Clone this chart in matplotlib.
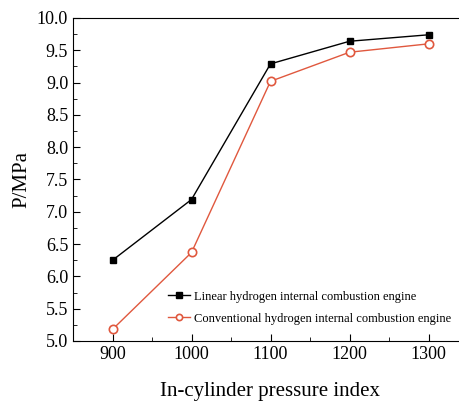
import matplotlib.pyplot as plt
from matplotlib.ticker import MultipleLocator

plt.rcParams['font.family'] = ['Liberation Serif', 'DejaVu Serif']

pressure_index = [900, 1000, 1100, 1200, 1300]
linear_p = [6.25, 7.19, 9.29, 9.64, 9.74]
conventional_p = [5.18, 6.37, 9.02, 9.47, 9.60]

fig = plt.figure(figsize=(4.6, 4.03), dpi=100)
# right edge of axes runs past the picture, as in the original
ax = fig.add_axes([73 / 460, 62 / 403, (468 - 73) / 460, 323 / 403])

ax.plot(pressure_index, linear_p, '-s', color='black', lw=1, ms=5,
        label='Linear hydrogen internal combustion engine')
ax.plot(pressure_index, conventional_p, '-o', color='#e0583e', lw=1, ms=6,
        mfc='white', mec='#e0583e', mew=1.2,
        label='Conventional hydrogen internal combustion engine')

ax.set_xlim(850, 1350)
ax.set_ylim(5.0, 10.0)
ax.xaxis.set_major_locator(MultipleLocator(100))
ax.xaxis.set_minor_locator(MultipleLocator(50))
ax.yaxis.set_major_locator(MultipleLocator(0.5))
ax.yaxis.set_minor_locator(MultipleLocator(0.25))
ax.yaxis.set_major_formatter('{x:.1f}')
ax.tick_params(which='both', direction='in', top=False, right=False, labelsize=13)
ax.tick_params(which='major', length=5)
ax.tick_params(which='minor', length=3)
ax.spines['right'].set_visible(False)

ax.set_xlabel('In-cylinder pressure index', fontsize=15, labelpad=14)
ax.set_ylabel('P/MPa', fontsize=15)

leg = ax.legend(loc='lower left', bbox_to_anchor=(0.215, 0.02), fontsize=9,
                frameon=True, edgecolor='none', facecolor='white', framealpha=1,
                handlelength=1.8, handletextpad=0.3, borderpad=0.3, labelspacing=0.8,
                markerscale=0.75)

fig.savefig('out.png', dpi=100)
